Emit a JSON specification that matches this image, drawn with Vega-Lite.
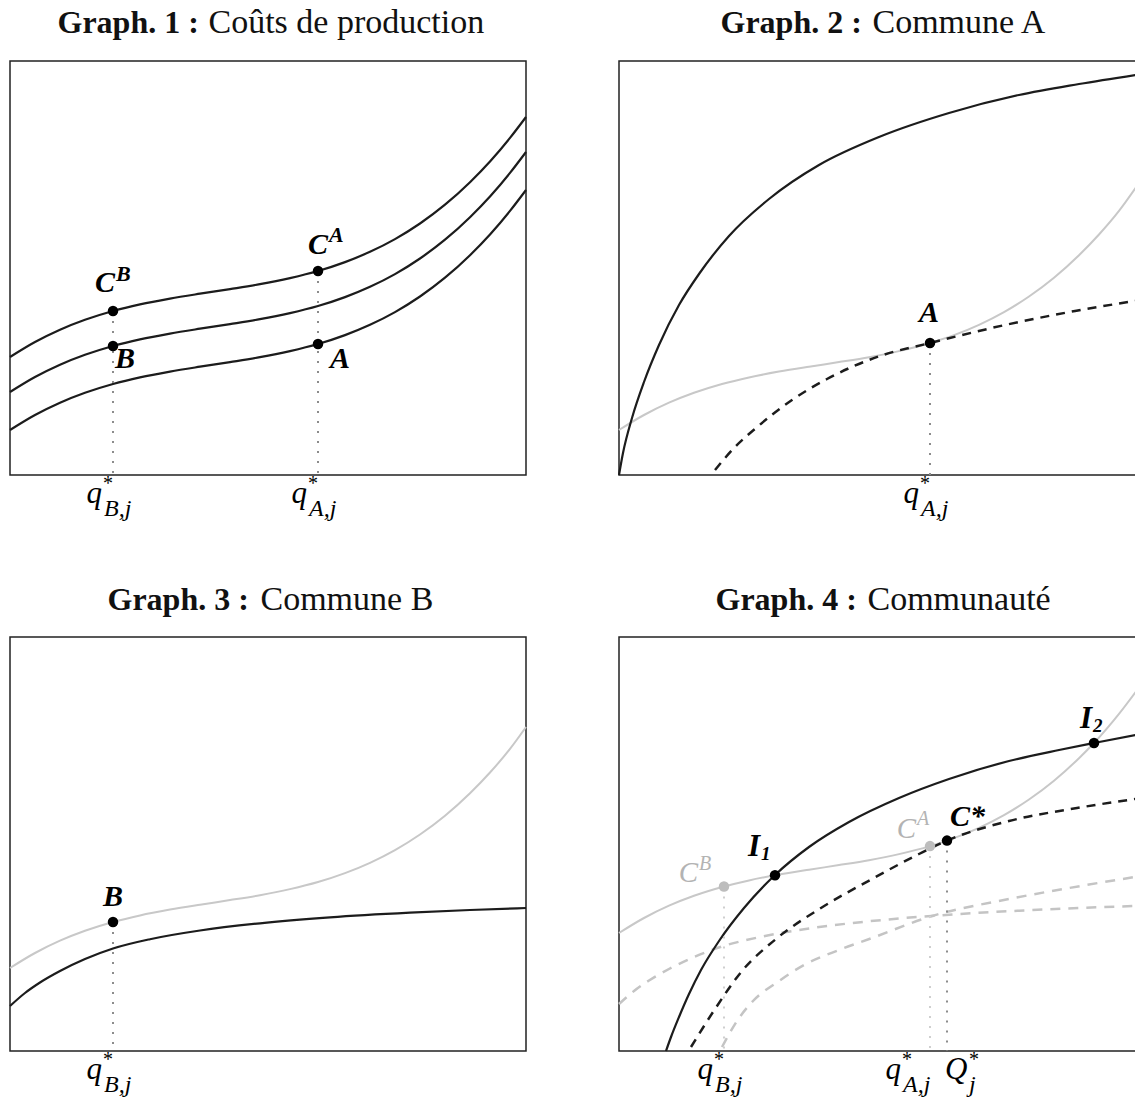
{
  "$schema": "https://vega.github.io/schema/vega-lite/v6.json",
  "background": "white",
  "padding": {"left": 4, "top": 4, "right": 0, "bottom": 0},
  "config": {
    "view": {"stroke": "#222222", "strokeWidth": 1.5},
    "axis": {"domain": false, "ticks": false, "labels": false, "grid": false, "titleFont": "Liberation Serif", "titleColor": "#111111", "titleAlign": "left", "titleBaseline": "alphabetic", "titleAngle": 0, "titlePadding": 0},
    "text": {"font": "Liberation Serif", "fontStyle": "italic", "baseline": "alphabetic", "color": "#000000"},
    "line": {"interpolate": "monotone"},
    "point": {"filled": true, "shape": "circle", "size": 110, "opacity": 1, "color": "#000000"}
  },
  "columns": 2,
  "spacing": {"row": 162, "column": 93},
  "bounds": "flush",
  "datasets": {
    "p1_curves": [
      {"curve": "C1", "q": 0, "c": 118}, {"curve": "C1", "q": 25, "c": 133}, {"curve": "C1", "q": 50, "c": 145.3}, {"curve": "C1", "q": 75, "c": 155.2}, {"curve": "C1", "q": 103, "c": 164}, {"curve": "C1", "q": 130, "c": 170.6}, {"curve": "C1", "q": 160, "c": 176.4}, {"curve": "C1", "q": 190, "c": 181.3}, {"curve": "C1", "q": 220, "c": 185.9}, {"curve": "C1", "q": 250, "c": 190.8}, {"curve": "C1", "q": 280, "c": 196.9}, {"curve": "C1", "q": 308, "c": 204}, {"curve": "C1", "q": 335, "c": 212.9}, {"curve": "C1", "q": 360, "c": 223.2}, {"curve": "C1", "q": 385, "c": 235.9}, {"curve": "C1", "q": 410, "c": 251.5}, {"curve": "C1", "q": 435, "c": 270.3}, {"curve": "C1", "q": 460, "c": 292.8}, {"curve": "C1", "q": 480, "c": 313.5}, {"curve": "C1", "q": 500, "c": 337.1}, {"curve": "C1", "q": 516, "c": 358},
      {"curve": "C2", "q": 0, "c": 83}, {"curve": "C2", "q": 25, "c": 98}, {"curve": "C2", "q": 50, "c": 110.3}, {"curve": "C2", "q": 75, "c": 120.2}, {"curve": "C2", "q": 103, "c": 129}, {"curve": "C2", "q": 130, "c": 135.6}, {"curve": "C2", "q": 160, "c": 141.4}, {"curve": "C2", "q": 190, "c": 146.3}, {"curve": "C2", "q": 220, "c": 150.9}, {"curve": "C2", "q": 250, "c": 155.8}, {"curve": "C2", "q": 280, "c": 161.9}, {"curve": "C2", "q": 308, "c": 169}, {"curve": "C2", "q": 335, "c": 177.9}, {"curve": "C2", "q": 360, "c": 188.2}, {"curve": "C2", "q": 385, "c": 200.9}, {"curve": "C2", "q": 410, "c": 216.5}, {"curve": "C2", "q": 435, "c": 235.3}, {"curve": "C2", "q": 460, "c": 257.8}, {"curve": "C2", "q": 480, "c": 278.5}, {"curve": "C2", "q": 500, "c": 302.1}, {"curve": "C2", "q": 516, "c": 323},
      {"curve": "C3", "q": 0, "c": 45}, {"curve": "C3", "q": 25, "c": 60}, {"curve": "C3", "q": 50, "c": 72.3}, {"curve": "C3", "q": 75, "c": 82.2}, {"curve": "C3", "q": 103, "c": 91}, {"curve": "C3", "q": 130, "c": 97.6}, {"curve": "C3", "q": 160, "c": 103.4}, {"curve": "C3", "q": 190, "c": 108.3}, {"curve": "C3", "q": 220, "c": 112.9}, {"curve": "C3", "q": 250, "c": 117.8}, {"curve": "C3", "q": 280, "c": 123.9}, {"curve": "C3", "q": 308, "c": 131}, {"curve": "C3", "q": 335, "c": 139.9}, {"curve": "C3", "q": 360, "c": 150.2}, {"curve": "C3", "q": 385, "c": 162.9}, {"curve": "C3", "q": 410, "c": 178.5}, {"curve": "C3", "q": 435, "c": 197.3}, {"curve": "C3", "q": 460, "c": 219.8}, {"curve": "C3", "q": 480, "c": 240.5}, {"curve": "C3", "q": 500, "c": 264.1}, {"curve": "C3", "q": 516, "c": 285}
    ],
    "p1_points": [
      {"pt": "CB", "q": 103, "c": 164}, {"pt": "B", "q": 103, "c": 129}, {"pt": "CA", "q": 308, "c": 204}, {"pt": "A", "q": 308, "c": 131}
    ],
    "p1_ticks": [{"q": 103, "c": 0, "sub": "B,j"}, {"q": 308, "c": 0, "sub": "A,j"}],
    "p2_curves": [
      {"curve": "BA", "q": 0, "c": 0}, {"curve": "BA", "q": 4, "c": 22}, {"curve": "BA", "q": 13, "c": 57}, {"curve": "BA", "q": 25, "c": 93}, {"curve": "BA", "q": 40, "c": 130}, {"curve": "BA", "q": 60, "c": 170}, {"curve": "BA", "q": 80, "c": 201}, {"curve": "BA", "q": 110, "c": 239}, {"curve": "BA", "q": 150, "c": 276}, {"curve": "BA", "q": 200, "c": 310}, {"curve": "BA", "q": 260, "c": 338}, {"curve": "BA", "q": 330, "c": 362}, {"curve": "BA", "q": 400, "c": 380}, {"curve": "BA", "q": 460, "c": 391}, {"curve": "BA", "q": 520, "c": 400.6},
      {"curve": "CA", "q": 0, "c": 45}, {"curve": "CA", "q": 25, "c": 60}, {"curve": "CA", "q": 50, "c": 72.3}, {"curve": "CA", "q": 75, "c": 82.2}, {"curve": "CA", "q": 103, "c": 91}, {"curve": "CA", "q": 130, "c": 97.6}, {"curve": "CA", "q": 160, "c": 103.4}, {"curve": "CA", "q": 190, "c": 108.3}, {"curve": "CA", "q": 220, "c": 112.9}, {"curve": "CA", "q": 250, "c": 117.8}, {"curve": "CA", "q": 280, "c": 123.9}, {"curve": "CA", "q": 311, "c": 132}, {"curve": "CA", "q": 335, "c": 139.9}, {"curve": "CA", "q": 360, "c": 150.2}, {"curve": "CA", "q": 385, "c": 162.9}, {"curve": "CA", "q": 410, "c": 178.5}, {"curve": "CA", "q": 435, "c": 197.3}, {"curve": "CA", "q": 460, "c": 219.8}, {"curve": "CA", "q": 480, "c": 240.5}, {"curve": "CA", "q": 500, "c": 264.1}, {"curve": "CA", "q": 520, "c": 292},
      {"curve": "MA", "q": 96, "c": 5}, {"curve": "MA", "q": 115, "c": 27}, {"curve": "MA", "q": 137, "c": 47}, {"curve": "MA", "q": 173, "c": 75}, {"curve": "MA", "q": 208, "c": 96}, {"curve": "MA", "q": 261, "c": 119}, {"curve": "MA", "q": 311, "c": 132}, {"curve": "MA", "q": 386, "c": 150}, {"curve": "MA", "q": 456, "c": 164}, {"curve": "MA", "q": 520, "c": 174.7}
    ],
    "p2_points": [{"pt": "A", "q": 311, "c": 132}],
    "p2_ticks": [{"q": 311, "c": 0, "sub": "A,j"}],
    "p3_curves": [
      {"curve": "CB", "q": 0, "c": 83}, {"curve": "CB", "q": 25, "c": 98}, {"curve": "CB", "q": 50, "c": 110.3}, {"curve": "CB", "q": 75, "c": 120.2}, {"curve": "CB", "q": 103, "c": 129}, {"curve": "CB", "q": 130, "c": 135.6}, {"curve": "CB", "q": 160, "c": 141.4}, {"curve": "CB", "q": 190, "c": 146.3}, {"curve": "CB", "q": 220, "c": 150.9}, {"curve": "CB", "q": 250, "c": 155.8}, {"curve": "CB", "q": 280, "c": 161.9}, {"curve": "CB", "q": 308, "c": 169}, {"curve": "CB", "q": 335, "c": 177.9}, {"curve": "CB", "q": 360, "c": 188.2}, {"curve": "CB", "q": 385, "c": 200.9}, {"curve": "CB", "q": 410, "c": 216.5}, {"curve": "CB", "q": 435, "c": 235.3}, {"curve": "CB", "q": 460, "c": 257.8}, {"curve": "CB", "q": 480, "c": 278.5}, {"curve": "CB", "q": 500, "c": 302.1}, {"curve": "CB", "q": 516, "c": 324},
      {"curve": "BB", "q": 0, "c": 45}, {"curve": "BB", "q": 15, "c": 58}, {"curve": "BB", "q": 30, "c": 68.5}, {"curve": "BB", "q": 50, "c": 80}, {"curve": "BB", "q": 75, "c": 92}, {"curve": "BB", "q": 103, "c": 102.5}, {"curve": "BB", "q": 140, "c": 111.8}, {"curve": "BB", "q": 190, "c": 120.5}, {"curve": "BB", "q": 250, "c": 127.7}, {"curve": "BB", "q": 320, "c": 133.6}, {"curve": "BB", "q": 400, "c": 138.3}, {"curve": "BB", "q": 460, "c": 141}, {"curve": "BB", "q": 516, "c": 143}
    ],
    "p3_points": [{"pt": "B", "q": 103, "c": 129}],
    "p3_ticks": [{"q": 103, "c": 0, "sub": "B,j"}],
    "p4_curves": [
      {"curve": "S", "q": 47, "c": 0}, {"curve": "S", "q": 52, "c": 14}, {"curve": "S", "q": 60, "c": 34}, {"curve": "S", "q": 70, "c": 57}, {"curve": "S", "q": 82, "c": 81}, {"curve": "S", "q": 100, "c": 110}, {"curve": "S", "q": 125, "c": 143}, {"curve": "S", "q": 156, "c": 176}, {"curve": "S", "q": 190, "c": 204}, {"curve": "S", "q": 230, "c": 229}, {"curve": "S", "q": 280, "c": 253}, {"curve": "S", "q": 330, "c": 272}, {"curve": "S", "q": 390, "c": 290}, {"curve": "S", "q": 440, "c": 301}, {"curve": "S", "q": 475, "c": 308}, {"curve": "S", "q": 520, "c": 316.7},
      {"curve": "G", "q": 0, "c": 118}, {"curve": "G", "q": 25, "c": 133}, {"curve": "G", "q": 50, "c": 145.3}, {"curve": "G", "q": 75, "c": 155.2}, {"curve": "G", "q": 105, "c": 164.5}, {"curve": "G", "q": 130, "c": 170.6}, {"curve": "G", "q": 156, "c": 175.7}, {"curve": "G", "q": 190, "c": 181.3}, {"curve": "G", "q": 220, "c": 185.9}, {"curve": "G", "q": 250, "c": 190.8}, {"curve": "G", "q": 280, "c": 196.9}, {"curve": "G", "q": 311, "c": 204.9}, {"curve": "G", "q": 328, "c": 210.4}, {"curve": "G", "q": 360, "c": 223.2}, {"curve": "G", "q": 385, "c": 235.9}, {"curve": "G", "q": 410, "c": 251.5}, {"curve": "G", "q": 435, "c": 270.3}, {"curve": "G", "q": 460, "c": 292.8}, {"curve": "G", "q": 475, "c": 308}, {"curve": "G", "q": 500, "c": 337.1}, {"curve": "G", "q": 520, "c": 363.5},
      {"curve": "D", "q": 72, "c": 4}, {"curve": "D", "q": 96, "c": 42}, {"curve": "D", "q": 123, "c": 80}, {"curve": "D", "q": 157, "c": 112}, {"curve": "D", "q": 202, "c": 143}, {"curve": "D", "q": 253, "c": 172}, {"curve": "D", "q": 300, "c": 197}, {"curve": "D", "q": 328, "c": 210.4}, {"curve": "D", "q": 390, "c": 230}, {"curve": "D", "q": 458, "c": 243}, {"curve": "D", "q": 520, "c": 252.6},
      {"curve": "GA", "q": 0, "c": 47}, {"curve": "GA", "q": 15, "c": 60}, {"curve": "GA", "q": 30, "c": 70.5}, {"curve": "GA", "q": 50, "c": 82}, {"curve": "GA", "q": 75, "c": 94}, {"curve": "GA", "q": 103, "c": 104.5}, {"curve": "GA", "q": 140, "c": 113.8}, {"curve": "GA", "q": 190, "c": 122.5}, {"curve": "GA", "q": 250, "c": 129.7}, {"curve": "GA", "q": 320, "c": 135.6}, {"curve": "GA", "q": 400, "c": 140.3}, {"curve": "GA", "q": 460, "c": 143}, {"curve": "GA", "q": 520, "c": 145.1},
      {"curve": "GB", "q": 103, "c": 4}, {"curve": "GB", "q": 118, "c": 30}, {"curve": "GB", "q": 134, "c": 50}, {"curve": "GB", "q": 160, "c": 70}, {"curve": "GB", "q": 185, "c": 86}, {"curve": "GB", "q": 220, "c": 101}, {"curve": "GB", "q": 253, "c": 113}, {"curve": "GB", "q": 313, "c": 135}, {"curve": "GB", "q": 390, "c": 152}, {"curve": "GB", "q": 450, "c": 163}, {"curve": "GB", "q": 520, "c": 174.7}
    ],
    "p4_points": [
      {"pt": "CB", "q": 105, "c": 164.5}, {"pt": "I1", "q": 156, "c": 175.7}, {"pt": "CA", "q": 311, "c": 204.9}, {"pt": "Cs", "q": 328, "c": 210.4}, {"pt": "I2", "q": 475, "c": 308}
    ],
    "p4_ticks": [{"t": "B", "q": 105, "c": 0, "sub": "B,j"}, {"t": "A", "q": 311, "c": 0, "sub": "A,j"}, {"t": "Q", "q": 328, "c": 0, "sub": "j"}]
  },
  "concat": [
    {
      "width": 516, "height": 414,
      "encoding": {
        "x": {"field": "q", "type": "quantitative", "scale": {"domain": [0, 516], "nice": false, "zero": false}, "axis": {"orient": "top", "title": "Coûts de production", "titleFontSize": 34, "titleFontWeight": "normal", "titleX": 198, "titleY": -29}},
        "y": {"field": "c", "type": "quantitative", "scale": {"domain": [0, 414], "nice": false, "zero": false}, "axis": {"orient": "left", "title": "Graph. 1 :", "titleFontSize": 32, "titleFontWeight": "bold", "titleX": 47, "titleY": -29}}
      },
      "layer": [
        {"data": {"name": "p1_curves"}, "mark": {"type": "line", "stroke": "#1c1c1c", "strokeWidth": 2.2}, "encoding": {"detail": {"field": "curve"}}},
        {"data": {"name": "p1_points"}, "transform": [{"filter": "datum.pt === 'CB' || datum.pt === 'CA'"}], "mark": {"type": "rule", "stroke": "#8c8c8c", "strokeWidth": 2, "strokeDash": [2, 8]}, "encoding": {"y2": {"datum": 0}}},
        {"data": {"name": "p1_points"}, "mark": {"type": "point"}},
        {"data": {"name": "p1_points"}, "transform": [{"filter": "datum.pt === 'CB'"}], "mark": {"type": "text", "text": "C", "align": "right", "dx": 2, "dy": -19, "fontSize": 30, "fontWeight": "bold"}},
        {"data": {"name": "p1_points"}, "transform": [{"filter": "datum.pt === 'CB'"}], "mark": {"type": "text", "text": "B", "align": "left", "dx": 3, "dy": -30, "fontSize": 22, "fontWeight": "bold"}},
        {"data": {"name": "p1_points"}, "transform": [{"filter": "datum.pt === 'B'"}], "mark": {"type": "text", "text": "B", "align": "left", "dx": 2, "dy": 22, "fontSize": 30, "fontWeight": "bold"}},
        {"data": {"name": "p1_points"}, "transform": [{"filter": "datum.pt === 'CA'"}], "mark": {"type": "text", "text": "C", "align": "right", "dx": 10, "dy": -17, "fontSize": 30, "fontWeight": "bold"}},
        {"data": {"name": "p1_points"}, "transform": [{"filter": "datum.pt === 'CA'"}], "mark": {"type": "text", "text": "A", "align": "left", "dx": 11, "dy": -29, "fontSize": 22, "fontWeight": "bold"}},
        {"data": {"name": "p1_points"}, "transform": [{"filter": "datum.pt === 'A'"}], "mark": {"type": "text", "text": "A", "align": "left", "dx": 12, "dy": 24, "fontSize": 30, "fontWeight": "bold"}},
        {"data": {"name": "p1_ticks"}, "mark": {"type": "text", "text": "q", "align": "right", "dx": -11, "dy": 28, "fontSize": 31}},
        {"data": {"name": "p1_ticks"}, "mark": {"type": "text", "text": "*", "align": "left", "dx": -10, "dy": 14.5, "fontSize": 20, "fontStyle": "normal"}},
        {"data": {"name": "p1_ticks"}, "mark": {"type": "text", "align": "left", "dx": -9, "dy": 40.5, "fontSize": 24}, "encoding": {"text": {"field": "sub"}}}
      ]
    },
    {
      "width": 520, "height": 414,
      "encoding": {
        "x": {"field": "q", "type": "quantitative", "scale": {"domain": [0, 520], "nice": false, "zero": false}, "axis": {"orient": "top", "title": "Commune A", "titleFontSize": 34, "titleFontWeight": "normal", "titleX": 253, "titleY": -29}},
        "y": {"field": "c", "type": "quantitative", "scale": {"domain": [0, 414], "nice": false, "zero": false}, "axis": {"orient": "left", "title": "Graph. 2 :", "titleFontSize": 32, "titleFontWeight": "bold", "titleX": 101, "titleY": -29}}
      },
      "layer": [
        {"data": {"name": "p2_curves"}, "transform": [{"filter": "datum.curve === 'CA'"}], "mark": {"type": "line", "stroke": "#c8c8c8", "strokeWidth": 2}},
        {"data": {"name": "p2_curves"}, "transform": [{"filter": "datum.curve === 'MA'"}], "mark": {"type": "line", "stroke": "#1c1c1c", "strokeWidth": 2.5, "strokeDash": [9, 7]}},
        {"data": {"name": "p2_curves"}, "transform": [{"filter": "datum.curve === 'BA'"}], "mark": {"type": "line", "stroke": "#1c1c1c", "strokeWidth": 2.2}},
        {"data": {"name": "p2_points"}, "mark": {"type": "rule", "stroke": "#8c8c8c", "strokeWidth": 2, "strokeDash": [2, 8]}, "encoding": {"y2": {"datum": 0}}},
        {"data": {"name": "p2_points"}, "mark": {"type": "point"}},
        {"data": {"name": "p2_points"}, "mark": {"type": "text", "text": "A", "align": "center", "dx": -1, "dy": -21, "fontSize": 30, "fontWeight": "bold"}},
        {"data": {"name": "p2_ticks"}, "mark": {"type": "text", "text": "q", "align": "right", "dx": -11, "dy": 28, "fontSize": 31}},
        {"data": {"name": "p2_ticks"}, "mark": {"type": "text", "text": "*", "align": "left", "dx": -10, "dy": 14.5, "fontSize": 20, "fontStyle": "normal"}},
        {"data": {"name": "p2_ticks"}, "mark": {"type": "text", "align": "left", "dx": -9, "dy": 40.5, "fontSize": 24}, "encoding": {"text": {"field": "sub"}}}
      ]
    },
    {
      "width": 516, "height": 414,
      "encoding": {
        "x": {"field": "q", "type": "quantitative", "scale": {"domain": [0, 516], "nice": false, "zero": false}, "axis": {"orient": "top", "title": "Commune B", "titleFontSize": 34, "titleFontWeight": "normal", "titleX": 250, "titleY": -28}},
        "y": {"field": "c", "type": "quantitative", "scale": {"domain": [0, 414], "nice": false, "zero": false}, "axis": {"orient": "left", "title": "Graph. 3 :", "titleFontSize": 32, "titleFontWeight": "bold", "titleX": 97, "titleY": -28}}
      },
      "layer": [
        {"data": {"name": "p3_curves"}, "transform": [{"filter": "datum.curve === 'CB'"}], "mark": {"type": "line", "stroke": "#c8c8c8", "strokeWidth": 2}},
        {"data": {"name": "p3_curves"}, "transform": [{"filter": "datum.curve === 'BB'"}], "mark": {"type": "line", "stroke": "#1c1c1c", "strokeWidth": 2.2}},
        {"data": {"name": "p3_points"}, "mark": {"type": "rule", "stroke": "#8c8c8c", "strokeWidth": 2, "strokeDash": [2, 8]}, "encoding": {"y2": {"datum": 0}}},
        {"data": {"name": "p3_points"}, "mark": {"type": "point"}},
        {"data": {"name": "p3_points"}, "mark": {"type": "text", "text": "B", "align": "center", "dx": 0, "dy": -16, "fontSize": 30, "fontWeight": "bold"}},
        {"data": {"name": "p3_ticks"}, "mark": {"type": "text", "text": "q", "align": "right", "dx": -11, "dy": 28, "fontSize": 31}},
        {"data": {"name": "p3_ticks"}, "mark": {"type": "text", "text": "*", "align": "left", "dx": -10, "dy": 14.5, "fontSize": 20, "fontStyle": "normal"}},
        {"data": {"name": "p3_ticks"}, "mark": {"type": "text", "align": "left", "dx": -9, "dy": 40.5, "fontSize": 24}, "encoding": {"text": {"field": "sub"}}}
      ]
    },
    {
      "width": 520, "height": 414,
      "encoding": {
        "x": {"field": "q", "type": "quantitative", "scale": {"domain": [0, 520], "nice": false, "zero": false}, "axis": {"orient": "top", "title": "Communauté", "titleFontSize": 34, "titleFontWeight": "normal", "titleX": 248, "titleY": -28}},
        "y": {"field": "c", "type": "quantitative", "scale": {"domain": [0, 414], "nice": false, "zero": false}, "axis": {"orient": "left", "title": "Graph. 4 :", "titleFontSize": 32, "titleFontWeight": "bold", "titleX": 96, "titleY": -28}}
      },
      "layer": [
        {"data": {"name": "p4_curves"}, "transform": [{"filter": "datum.curve === 'GA' || datum.curve === 'GB'"}], "mark": {"type": "line", "stroke": "#c4c4c4", "strokeWidth": 2.5, "strokeDash": [10, 8]}, "encoding": {"detail": {"field": "curve"}}},
        {"data": {"name": "p4_curves"}, "transform": [{"filter": "datum.curve === 'G'"}], "mark": {"type": "line", "stroke": "#c8c8c8", "strokeWidth": 2}},
        {"data": {"name": "p4_curves"}, "transform": [{"filter": "datum.curve === 'D'"}], "mark": {"type": "line", "stroke": "#1c1c1c", "strokeWidth": 2.5, "strokeDash": [9, 7]}},
        {"data": {"name": "p4_curves"}, "transform": [{"filter": "datum.curve === 'S'"}], "mark": {"type": "line", "stroke": "#1c1c1c", "strokeWidth": 2.2}},
        {"data": {"name": "p4_points"}, "transform": [{"filter": "datum.pt === 'CB' || datum.pt === 'CA'"}], "mark": {"type": "rule", "stroke": "#cfcfcf", "strokeWidth": 2, "strokeDash": [2, 8]}, "encoding": {"y2": {"datum": 0}}},
        {"data": {"name": "p4_points"}, "transform": [{"filter": "datum.pt === 'Cs'"}], "mark": {"type": "rule", "stroke": "#8c8c8c", "strokeWidth": 2, "strokeDash": [2, 8]}, "encoding": {"y2": {"datum": 0}}},
        {"data": {"name": "p4_points"}, "transform": [{"filter": "datum.pt === 'CB' || datum.pt === 'CA'"}], "mark": {"type": "point", "color": "#bdbdbd"}},
        {"data": {"name": "p4_points"}, "transform": [{"filter": "datum.pt === 'I1' || datum.pt === 'Cs' || datum.pt === 'I2'"}], "mark": {"type": "point"}},
        {"data": {"name": "p4_points"}, "transform": [{"filter": "datum.pt === 'CB'"}], "mark": {"type": "text", "text": "C", "align": "right", "dx": -26, "dy": -5, "fontSize": 29, "color": "#b3b3b3"}},
        {"data": {"name": "p4_points"}, "transform": [{"filter": "datum.pt === 'CB'"}], "mark": {"type": "text", "text": "B", "align": "left", "dx": -25, "dy": -17, "fontSize": 20, "color": "#b3b3b3"}},
        {"data": {"name": "p4_points"}, "transform": [{"filter": "datum.pt === 'CA'"}], "mark": {"type": "text", "text": "C", "align": "right", "dx": -14, "dy": -8, "fontSize": 29, "color": "#b3b3b3"}},
        {"data": {"name": "p4_points"}, "transform": [{"filter": "datum.pt === 'CA'"}], "mark": {"type": "text", "text": "A", "align": "left", "dx": -13, "dy": -21, "fontSize": 20, "color": "#b3b3b3"}},
        {"data": {"name": "p4_points"}, "transform": [{"filter": "datum.pt === 'I1'"}], "mark": {"type": "text", "text": "I", "align": "left", "dx": -27, "dy": -19, "fontSize": 31, "fontWeight": "bold"}},
        {"data": {"name": "p4_points"}, "transform": [{"filter": "datum.pt === 'I1'"}], "mark": {"type": "text", "text": "1", "align": "left", "dx": -14, "dy": -15, "fontSize": 19, "fontWeight": "bold"}},
        {"data": {"name": "p4_points"}, "transform": [{"filter": "datum.pt === 'Cs'"}], "mark": {"type": "text", "text": "C*", "align": "left", "dx": 3, "dy": -15, "fontSize": 30, "fontWeight": "bold"}},
        {"data": {"name": "p4_points"}, "transform": [{"filter": "datum.pt === 'I2'"}], "mark": {"type": "text", "text": "I", "align": "left", "dx": -14, "dy": -15, "fontSize": 31, "fontWeight": "bold"}},
        {"data": {"name": "p4_points"}, "transform": [{"filter": "datum.pt === 'I2'"}], "mark": {"type": "text", "text": "2", "align": "left", "dx": -1, "dy": -11, "fontSize": 19, "fontWeight": "bold"}},
        {"data": {"name": "p4_ticks"}, "transform": [{"filter": "datum.t === 'B'"}], "mark": {"type": "text", "text": "q", "align": "right", "dx": -11, "dy": 28, "fontSize": 31}},
        {"data": {"name": "p4_ticks"}, "transform": [{"filter": "datum.t === 'B'"}], "mark": {"type": "text", "text": "*", "align": "left", "dx": -10, "dy": 14.5, "fontSize": 20, "fontStyle": "normal"}},
        {"data": {"name": "p4_ticks"}, "transform": [{"filter": "datum.t === 'B'"}], "mark": {"type": "text", "align": "left", "dx": -9, "dy": 40.5, "fontSize": 24}, "encoding": {"text": {"field": "sub"}}},
        {"data": {"name": "p4_ticks"}, "transform": [{"filter": "datum.t === 'A'"}], "mark": {"type": "text", "text": "q", "align": "right", "dx": -29, "dy": 28, "fontSize": 31}},
        {"data": {"name": "p4_ticks"}, "transform": [{"filter": "datum.t === 'A'"}], "mark": {"type": "text", "text": "*", "align": "left", "dx": -28, "dy": 14.5, "fontSize": 20, "fontStyle": "normal"}},
        {"data": {"name": "p4_ticks"}, "transform": [{"filter": "datum.t === 'A'"}], "mark": {"type": "text", "align": "left", "dx": -27, "dy": 40.5, "fontSize": 24}, "encoding": {"text": {"field": "sub"}}},
        {"data": {"name": "p4_ticks"}, "transform": [{"filter": "datum.t === 'Q'"}], "mark": {"type": "text", "text": "Q", "align": "left", "dx": -2, "dy": 28, "fontSize": 31}},
        {"data": {"name": "p4_ticks"}, "transform": [{"filter": "datum.t === 'Q'"}], "mark": {"type": "text", "text": "*", "align": "left", "dx": 22, "dy": 14.5, "fontSize": 20, "fontStyle": "normal"}},
        {"data": {"name": "p4_ticks"}, "transform": [{"filter": "datum.t === 'Q'"}], "mark": {"type": "text", "align": "left", "dx": 22, "dy": 40.5, "fontSize": 24}, "encoding": {"text": {"field": "sub"}}}
      ]
    }
  ]
}
